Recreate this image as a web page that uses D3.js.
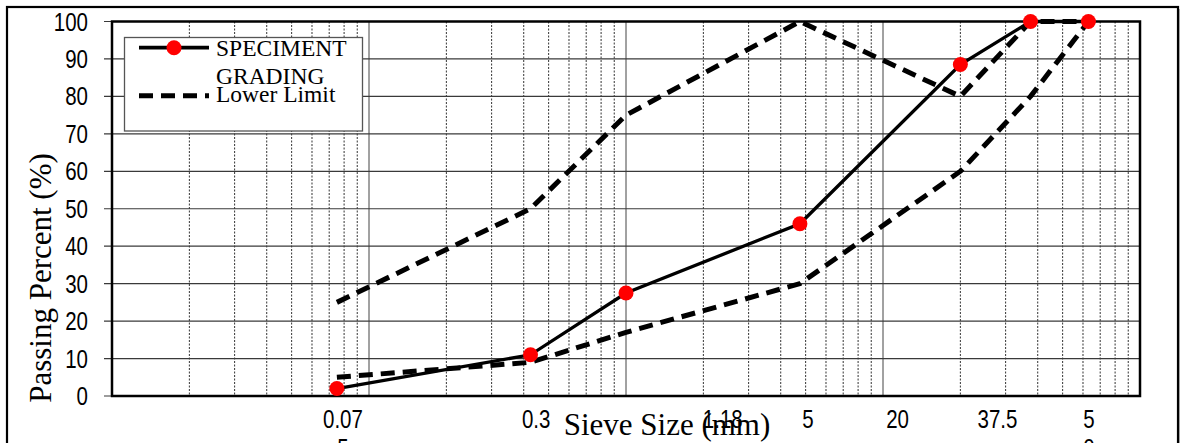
<!DOCTYPE html>
<html>
<head>
<meta charset="utf-8">
<script src="https://cdn.jsdelivr.net/npm/d3@7/dist/d3.min.js"></script>
<style>
  html, body { margin: 0; padding: 0; background: #fff; }
  svg { display: block; }
  .num { font-family: "Liberation Sans", Arial, sans-serif; }
  .serif { font-family: "Liberation Serif", "Times New Roman", serif; }
</style>
</head>
<body>
<svg id="chart" width="1182" height="443"></svg>
<script>
// Sieve sizes (mm) and percent passing for each grading curve
const sieveSizes     = [0.075, 0.425, 1.0, 4.75, 20, 37.5, 63];
const specimenPass   = [2, 11, 27.5, 46, 88.5, 100, 100];
const upperLimitPass = [25, 50, 75, 100, 80, 100, 100];
const lowerLimitPass = [5, 9, 17, 30, 60, 80, 100];

// Sieve labels along the bottom (wrapped lines) and the size each sits under
const sieveLabels  = [["0.07", "5"], ["0.3"], ["1.18"], ["5"], ["20"], ["37.5"], ["5", "0"]];
const sieveLabelAt = [0.0792, 0.447, 2.38, 5.11, 11.4, 27.9, 63.3];

const yTicks = [0, 10, 20, 30, 40, 50, 60, 70, 80, 90, 100];

const svg = d3.select("#chart");
const W = 1182, H = 443;
const plot = { left: 112, right: 1140, top: 21.5, bottom: 396 };
const narrow = 0.82; // horizontal squeeze for the narrow numeric face

svg.append("rect").attr("width", W).attr("height", H).attr("fill", "#fff");

// outer frame with a soft shadow on the right
svg.append("rect").attr("x", 9).attr("y", 9).attr("width", 1171).attr("height", 460)
  .attr("fill", "#b5b5b5");
svg.append("rect").attr("x", 7).attr("y", 7).attr("width", 1171).attr("height", 460)
  .attr("fill", "#fff").attr("stroke", "#000").attr("stroke-width", 2.2);

const x = d3.scaleLog().domain([0.01, 100]).range([plot.left, plot.right]);
const y = d3.scaleLinear().domain([0, 100]).range([plot.bottom, plot.top]);

const g = svg.append("g");

// vertical grid: minor (dotted) and decade (solid) lines
const minor = [];
const major = [];
[0.01, 0.1, 1, 10].forEach(d => {
  for (let k = 2; k <= 9; k++) minor.push(d * k);
  if (d > 0.01) major.push(d);
});
g.selectAll("line.minor").data(minor).join("line")
  .attr("class", "minor")
  .attr("x1", d => x(d)).attr("x2", d => x(d))
  .attr("y1", plot.top).attr("y2", plot.bottom)
  .attr("stroke", "#333").attr("stroke-width", 1).attr("stroke-dasharray", "2,1.5");
g.selectAll("line.major").data(major).join("line")
  .attr("class", "major")
  .attr("x1", d => x(d)).attr("x2", d => x(d))
  .attr("y1", plot.top).attr("y2", plot.bottom)
  .attr("stroke", "#444").attr("stroke-width", 1);

// horizontal grid with short ticks on the left
g.selectAll("line.hgrid").data(yTicks).join("line")
  .attr("class", "hgrid")
  .attr("x1", plot.left - 8).attr("x2", plot.right)
  .attr("y1", d => y(d)).attr("y2", d => y(d))
  .attr("stroke", "#3a3a3a").attr("stroke-width", 1.2);

// plot border
g.append("rect")
  .attr("x", plot.left).attr("y", plot.top)
  .attr("width", plot.right - plot.left).attr("height", plot.bottom - plot.top)
  .attr("fill", "none").attr("stroke", "#000").attr("stroke-width", 2.5);

// y tick labels
g.selectAll("g.ytick").data(yTicks).join("g")
  .attr("class", "ytick")
  .attr("transform", d => `translate(88,${y(d)}) scale(${narrow},1)`)
  .append("text")
  .attr("class", "num")
  .attr("dy", "0.36em")
  .attr("text-anchor", "end")
  .attr("font-size", 25)
  .text(d => d);

// sieve labels under the axis
const sl = g.selectAll("g.xtick").data(sieveLabels).join("g")
  .attr("class", "xtick")
  .attr("transform", (d, i) => `translate(${x(sieveLabelAt[i])},427.5) scale(${narrow},1)`)
  .append("text")
  .attr("class", "num")
  .attr("font-size", 25)
  .attr("text-anchor", "middle");
sl.selectAll("tspan").data(d => d).join("tspan")
  .attr("x", 0)
  .attr("dy", (d, i) => i === 0 ? 0 : 30)
  .text(d => d);

// axis titles
svg.append("text").attr("class", "serif")
  .attr("x", 667).attr("y", 435)
  .attr("text-anchor", "middle").attr("font-size", 31)
  .text("Sieve Size (mm)");
svg.append("text").attr("class", "serif")
  .attr("transform", "translate(50.5,278) rotate(-90)")
  .attr("text-anchor", "middle").attr("font-size", 31)
  .text("Passing Percent (%)");

// grading curves
const line = d3.line().x(d => x(d[0])).y(d => y(d[1]));
const pts = vals => sieveSizes.map((s, i) => [s, vals[i]]);

[upperLimitPass, lowerLimitPass].forEach(vals => {
  g.append("path").datum(pts(vals))
    .attr("d", line)
    .attr("fill", "none").attr("stroke", "#000")
    .attr("stroke-width", 5).attr("stroke-dasharray", "14,8")
    .attr("stroke-linejoin", "round");
});

g.append("path").datum(pts(specimenPass))
  .attr("d", line)
  .attr("fill", "none").attr("stroke", "#000").attr("stroke-width", 3.3);

g.selectAll("circle.pt").data(pts(specimenPass)).join("circle")
  .attr("class", "pt")
  .attr("cx", d => x(d[0])).attr("cy", d => y(d[1]))
  .attr("r", 7.5).attr("fill", "#ff0000");

// legend
const lg = svg.append("g");
lg.append("rect").attr("x", 124.5).attr("y", 37.5).attr("width", 238).attr("height", 93.5)
  .attr("fill", "#fff").attr("stroke", "#555").attr("stroke-width", 1.3);
lg.append("line").attr("x1", 139).attr("x2", 209).attr("y1", 47.7).attr("y2", 47.7)
  .attr("stroke", "#000").attr("stroke-width", 3.8);
lg.append("circle").attr("cx", 174).attr("cy", 47.7).attr("r", 7.5).attr("fill", "#ff0000");
lg.append("line").attr("x1", 139).attr("x2", 209).attr("y1", 95.7).attr("y2", 95.7)
  .attr("stroke", "#000").attr("stroke-width", 5).attr("stroke-dasharray", "14,8");
const lt = lg.append("text").attr("class", "serif").attr("font-size", 23.5);
lt.append("tspan").attr("x", 216).attr("y", 55.5).text("SPECIMENT");
lt.append("tspan").attr("x", 216).attr("y", 83.5).text("GRADING");
lg.append("text").attr("class", "serif").attr("font-size", 23.5)
  .attr("x", 216).attr("y", 102).text("Lower Limit");
</script>
</body>
</html>
